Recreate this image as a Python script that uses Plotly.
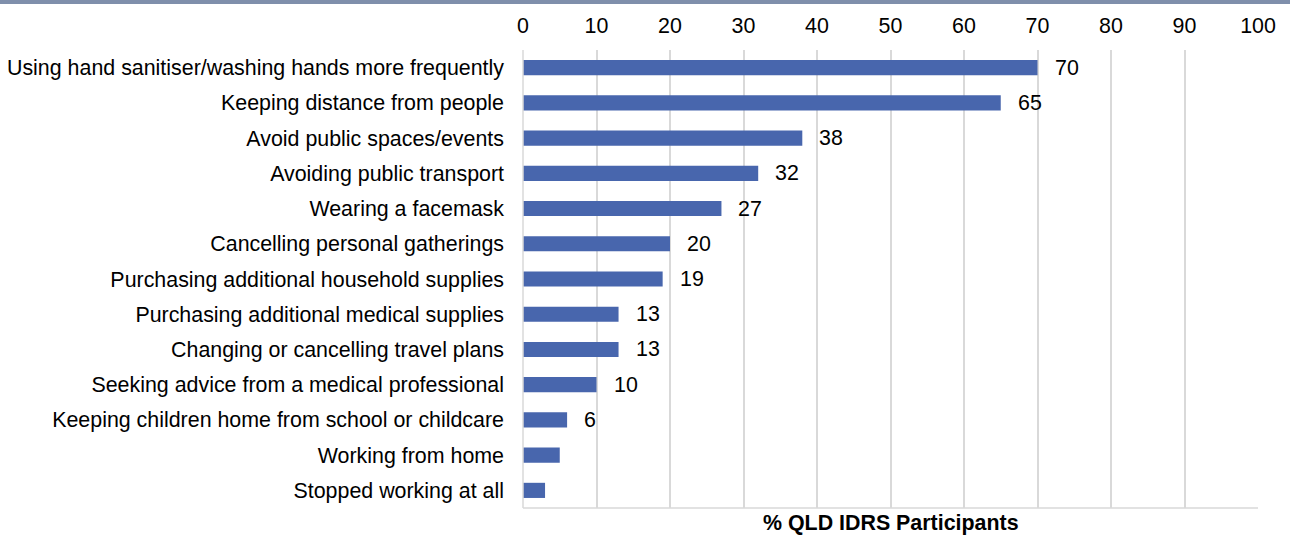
import plotly.graph_objects as go

categories = [
    "Using hand sanitiser/washing hands more frequently",
    "Keeping distance from people",
    "Avoid public spaces/events",
    "Avoiding public transport",
    "Wearing a facemask",
    "Cancelling personal gatherings",
    "Purchasing additional household supplies",
    "Purchasing additional medical supplies",
    "Changing or cancelling travel plans",
    "Seeking advice from a medical professional",
    "Keeping children home from school or childcare",
    "Working from home",
    "Stopped working at all",
]
values = [70, 65, 38, 32, 27, 20, 19, 13, 13, 10, 6, 5, 3]
show_label = [True] * 11 + [False, False]

W, H = 1290, 537
ML, MR, MT, MB = 523, 32, 50, 29
plot_h = H - MT - MB
plot_w = W - ML - MR
FONT = "Liberation Sans, Arial"
FS = 21.4

fig = go.Figure()
fig.add_trace(go.Bar(
    y=categories,
    x=values,
    orientation="h",
    marker=dict(color="#4866AD", line=dict(width=0)),
    width=0.43,
    hoverinfo="x+y",
))

for cat, v, s in zip(categories, values, show_label):
    if s:
        fig.add_annotation(
            x=v, y=cat, text=str(v), showarrow=False,
            xanchor="left", yanchor="middle", xshift=15,
            font=dict(family=FONT, size=FS, color="#000000"),
        )

fig.add_annotation(
    x=0.5, y=-15 / plot_h, xref="paper", yref="paper",
    text="<b>% QLD IDRS Participants</b>", showarrow=False,
    xanchor="center", yanchor="middle",
    font=dict(family=FONT, size=FS, color="#000000"),
)

# thin banner line across the very top
fig.add_shape(
    type="rect", xref="paper", yref="paper",
    x0=-ML / plot_w, x1=1 + MR / plot_w,
    y0=1 + (MT - 4) / plot_h, y1=1 + MT / plot_h,
    fillcolor="#7F8FAB", line=dict(width=0), layer="above",
)

fig.update_layout(
    width=W, height=H,
    margin=dict(l=ML, r=MR, t=MT, b=MB, pad=0, autoexpand=False),
    paper_bgcolor="white", plot_bgcolor="white",
    showlegend=False,
    font=dict(family=FONT, size=FS, color="#000000"),
    xaxis=dict(
        side="top", range=[0, 100], dtick=10, tick0=0,
        showgrid=True, gridcolor="#D9D9D9", gridwidth=1.5,
        zeroline=False, showline=False, ticks="",
        tickfont=dict(size=FS), ticklabelstandoff=12,
        automargin=False, fixedrange=True,
    ),
    yaxis=dict(
        autorange="reversed", categoryorder="array", categoryarray=categories,
        showgrid=False, zeroline=False, showline=False, ticks="",
        tickfont=dict(size=FS), ticklabelstandoff=18,
        automargin=False, fixedrange=True,
    ),
)

# light axis lines on left and bottom
fig.add_shape(type="line", xref="paper", yref="paper", x0=0, x1=0, y0=0, y1=1,
              line=dict(color="#D9D9D9", width=1.5))
fig.add_shape(type="line", xref="paper", yref="paper", x0=0, x1=1, y0=0, y1=0,
              line=dict(color="#D9D9D9", width=1.5))

fig.write_html("out.html")
